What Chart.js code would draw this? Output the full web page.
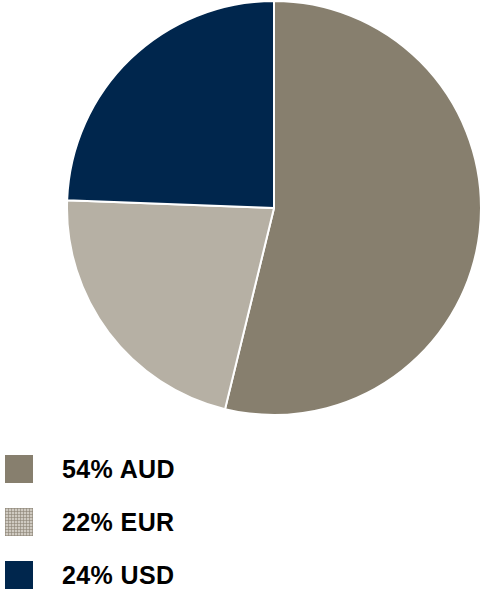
<!DOCTYPE html>
<html>
<head>
<meta charset="utf-8">
<script src="https://cdn.jsdelivr.net/npm/chart.js@4"></script>
<style>
    body { margin: 0; background: #fff; width: 480px; height: 590px; position: relative; overflow: hidden; }
    #pieWrap { position: absolute; left: 66px; top: 0px; width: 416px; height: 416px; }
    #legend { position: absolute; left: 5px; top: 455px; font-family: "Liberation Sans", Arial, sans-serif; font-weight: bold; font-size: 25px; letter-spacing: 0.4px; color: #000; }
    .row { display: flex; align-items: center; height: 28px; margin-bottom: 25px; }
    .swatch { width: 28px; height: 28px; margin-right: 29px; }
</style>
</head>
<body>
<div id="pieWrap"><canvas id="currencyChart" width="416" height="416"></canvas></div>
<div id="legend"></div>
<script>
// Currency split (slice sizes, legend shows rounded %)
const currencies = ['AUD', 'EUR', 'USD'];
const shares = [53.8, 21.8, 24.4];
const sliceColors = ['#877f6e', '#b6b0a4', '#00264d'];

// --- Legend (HTML) ---
const legendEl = document.getElementById('legend');
currencies.forEach((cur, i) => {
    const row = document.createElement('div');
    row.className = 'row';
    const sw = document.createElement('div');
    sw.className = 'swatch';
    sw.style.background = sliceColors[i];
    if (cur === 'EUR') {
        // hatched swatch like the source
        sw.style.backgroundImage = 'repeating-linear-gradient(0deg, rgba(140,132,118,0.6) 0 1px, transparent 1px 3px), repeating-linear-gradient(90deg, rgba(140,132,118,0.6) 0 1px, transparent 1px 3px)';
        sw.style.backgroundColor = '#cfcac1';
    }
    const label = document.createElement('span');
    label.textContent = Math.round(shares[i]) + '% ' + cur;
    row.appendChild(sw);
    row.appendChild(label);
    legendEl.appendChild(row);
});

// --- Pie ---
const ctx = document.getElementById('currencyChart').getContext('2d');
new Chart(ctx, {
    type: 'pie',
    data: {
        labels: currencies,
        datasets: [{
            data: shares,
            backgroundColor: sliceColors,
            borderColor: '#ffffff',
            borderWidth: 2
        }]
    },
    options: {
        responsive: false,
        animation: false,
        layout: { padding: 0 },
        plugins: { legend: { display: false }, tooltip: { enabled: false } }
    }
});
</script>
</body>
</html>
